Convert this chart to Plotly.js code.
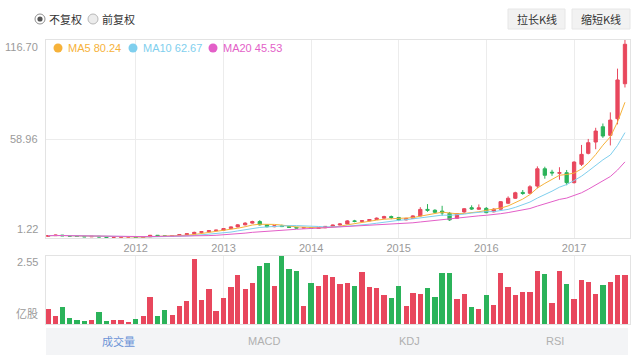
<!DOCTYPE html>
<html><head><meta charset="utf-8">
<script src="https://cdn.plot.ly/plotly-3.0.1.min.js"></script>
<style>html,body{margin:0;padding:0;background:#fff;}#chart{width:640px;height:364px;}</style>
</head><body><div id="chart"></div>
<script>
// ---- data ----
const months = [
'2011-01-01','2011-02-01','2011-03-01','2011-04-01','2011-05-01','2011-06-01','2011-07-01','2011-08-01','2011-09-01','2011-10-01','2011-11-01','2011-12-01',
'2012-01-01','2012-02-01','2012-03-01','2012-04-01','2012-05-01','2012-06-01','2012-07-01','2012-08-01','2012-09-01','2012-10-01','2012-11-01','2012-12-01',
'2013-01-01','2013-02-01','2013-03-01','2013-04-01','2013-05-01','2013-06-01','2013-07-01','2013-08-01','2013-09-01','2013-10-01','2013-11-01','2013-12-01',
'2014-01-01','2014-02-01','2014-03-01','2014-04-01','2014-05-01','2014-06-01','2014-07-01','2014-08-01','2014-09-01','2014-10-01','2014-11-01','2014-12-01',
'2015-01-01','2015-02-01','2015-03-01','2015-04-01','2015-05-01','2015-06-01','2015-07-01','2015-08-01','2015-09-01','2015-10-01','2015-11-01','2015-12-01',
'2016-01-01','2016-02-01','2016-03-01','2016-04-01','2016-05-01','2016-06-01','2016-07-01','2016-08-01','2016-09-01','2016-10-01','2016-11-01','2016-12-01',
'2017-01-01','2017-02-01','2017-03-01','2017-04-01','2017-05-01','2017-06-01','2017-07-01','2017-08-01'];
const open = [2.2,2.6,2.9,2.5,2.3,2.1,1.9,2.2,1.8,1.6,1.7,1.8,
1.85,1.5,1.9,2.8,2.5,2.2,2.6,3.2,3.7,4.5,4.9,5.5,
5.8,6.7,7.7,8.9,9.9,10.8,8.9,7.8,8.3,7.9,7.4,7.0,
7.3,6.8,7.2,8.0,8.8,9.4,11.2,10.9,11.3,12.0,12.8,13.7,
13.2,11.8,12.7,14.1,17.9,17.4,16.9,15.6,12.7,16.4,18.9,18.0,
18.5,16.5,18.0,21.5,24.4,27.8,27.3,31.5,41.6,39.6,39.0,39.3,
33.5,44.2,50.6,57.2,66.1,61.1,70.8,91.2];
const high = [2.8,3.1,3.0,2.6,2.4,2.2,2.3,2.3,1.9,1.8,1.9,1.9,
1.9,2.0,3.0,2.9,2.6,2.7,3.3,3.9,4.9,5.2,5.8,6.0,
7.0,8.0,9.3,10.4,11.3,11.6,9.3,8.6,9.0,8.2,7.7,7.5,
7.5,7.4,8.2,9.0,9.8,11.6,11.8,11.6,12.3,13.2,14.2,14.3,
13.5,13.0,14.5,19.2,21.0,18.0,20.0,16.4,15.8,18.6,20.3,20.8,
19.3,18.6,22.8,25.5,28.2,29.2,32.0,43.0,42.8,41.0,42.5,40.9,
46.0,55.5,59.0,65.5,68.0,74.5,100.0,116.70];
const low = [2.0,2.4,2.4,2.2,2.0,1.8,1.8,1.7,1.5,1.4,1.5,1.6,
1.22,1.4,1.8,2.4,2.1,2.1,2.5,3.0,3.5,4.2,4.7,5.2,
5.6,6.5,7.4,8.6,9.6,8.5,7.4,7.5,7.6,7.1,6.8,6.8,
6.5,6.6,7.0,7.8,8.6,9.2,10.4,10.6,11.0,11.7,12.5,12.2,
11.3,11.5,12.5,13.8,16.5,15.8,14.2,11.2,12.4,16.0,17.6,17.6,
15.7,16.2,17.7,21.0,24.0,26.4,27.0,30.2,35.8,37.5,35.2,32.0,
33.0,43.2,50.0,53.0,59.6,55.2,67.5,89.0];
const close = [2.6,2.9,2.5,2.3,2.1,1.9,2.2,1.8,1.6,1.7,1.8,1.85,
1.5,1.9,2.8,2.5,2.2,2.6,3.2,3.7,4.5,4.9,5.5,5.8,
6.7,7.7,8.9,9.9,10.8,8.9,7.8,8.3,7.9,7.4,7.0,7.3,
6.8,7.2,8.0,8.8,9.4,11.2,10.9,11.3,12.0,12.8,13.7,13.2,
11.8,12.7,14.1,17.9,17.4,16.2,15.8,11.8,15.5,18.3,18.1,18.8,
16.0,18.0,22.4,24.4,27.6,27.2,31.1,41.6,37.8,39.2,39.3,33.5,
45.5,50.0,56.8,63.6,60.7,70.0,93.4,114.2];
const volume = [0.58,0.30,0.62,0.21,0.14,0.11,0.16,0.44,0.11,0.16,0.16,0.06,
0.17,0.31,1.02,0.30,0.53,0.32,0.67,0.85,2.43,0.90,1.33,0.49,
0.98,1.37,1.83,1.31,1.52,2.18,2.30,1.41,2.55,2.08,1.98,0.68,
1.54,1.44,1.84,1.75,1.50,1.55,1.44,1.94,1.39,1.34,1.08,0.96,
1.41,0.68,1.16,1.11,1.36,1.01,1.93,1.93,0.92,1.11,0.65,0.58,
1.08,0.71,1.92,1.38,1.07,1.21,1.21,2.00,1.88,0.77,1.97,1.49,
0.95,1.64,1.57,1.12,1.47,1.57,1.84,1.84];
const volDir = [1,1,-1,-1,-1,-1,1,-1,-1,1,1,1,
-1,1,1,-1,-1,1,1,1,1,1,1,1,
1,1,1,1,1,-1,-1,1,-1,-1,-1,1,
-1,1,1,1,1,1,-1,1,1,1,1,-1,
-1,1,1,1,-1,-1,-1,-1,1,1,-1,1,
-1,1,1,1,1,1,1,1,-1,1,1,-1,
1,1,1,1,-1,1,1,1];
const yearTicks = ['2012-01-01','2013-01-01','2014-01-01','2015-01-01','2016-01-01','2017-01-01'];
const yearLabels = ['2012','2013','2014','2015','2016','2017'];
const maPeriods = [5,10,20];
const maLabels = ['MA5 80.24','MA10 62.67','MA20 45.53'];
const volUnit = '亿股';
const tabs = ['成交量','MACD','KDJ','RSI'];
const adjustOptions = ['不复权','前复权'];
const buttons = ['拉长K线','缩短K线'];

// ---- styles ----
const UP = '#e8475d', DOWN = '#2bb35a';
const maColors = ['#f6b23a','#7fcfee','#e35fc8'];
const GRID = '#ececec', FRAME = '#e3e3e3', LBL = '#9a9a9a';
const NUMF = 'Liberation Sans, Arial, sans-serif';
const CJK = 'Noto Sans CJK SC, sans-serif';
const L=46, R=630, T=40, B=324;
const px = x => (x-L)/(R-L), py = y => (B-y)/(B-T);

function ma(n){
  return close.map((_,i)=>{const s=close.slice(Math.max(0,i-n+1),i+1);return s.reduce((a,b)=>a+b,0)/s.length;});
}
const yMax = Math.max(...high), yMin = Math.min(...low), yMid = (yMax+yMin)/2;
const vMax = Math.max(...volume);

const traces = [];
maPeriods.forEach((n,k)=>traces.push({type:'scatter',mode:'lines',x:months,y:ma(n),xaxis:'x',yaxis:'y',
  line:{color:maColors[k],width:1},hoverinfo:'skip',showlegend:false}));
traces.push({type:'candlestick',x:months,open:open,high:high,low:low,close:close,xaxis:'x',yaxis:'y',
  increasing:{line:{color:UP,width:1},fillcolor:UP},decreasing:{line:{color:DOWN,width:1},fillcolor:DOWN},
  whiskerwidth:0,showlegend:false,hoverinfo:'skip'});
traces.push({type:'bar',x:months,y:volume,xaxis:'x2',yaxis:'y2',width:22*86400000,
  marker:{color:volDir.map(d=>d>0?UP:DOWN),line:{width:0}},showlegend:false,hoverinfo:'skip'});

const xr = ['2010-12-23','2017-08-22'];
const ann = [];
const shapes = [];
// y labels
ann.push({xref:'paper',yref:'paper',x:0,y:1,xanchor:'right',yanchor:'top',xshift:-6,yshift:1,text:yMax.toFixed(2),showarrow:false,font:{family:NUMF,size:11,color:LBL}});
ann.push({xref:'paper',yref:'y',x:0,y:yMid,xanchor:'right',yanchor:'middle',xshift:-6,text:yMid.toFixed(2),showarrow:false,font:{family:NUMF,size:11,color:LBL}});
ann.push({xref:'paper',yref:'y',x:0,y:yMin,xanchor:'right',yanchor:'bottom',xshift:-6,yshift:1,text:yMin.toFixed(2),showarrow:false,font:{family:NUMF,size:11,color:LBL}});
ann.push({xref:'paper',yref:'y2',x:0,y:vMax,xanchor:'right',yanchor:'top',xshift:-6,yshift:2,text:vMax.toFixed(2),showarrow:false,font:{family:NUMF,size:11,color:LBL}});
ann.push({xref:'paper',yref:'y2',x:0,y:0,xanchor:'right',yanchor:'bottom',xshift:-6,yshift:1,text:volUnit,showarrow:false,font:{family:CJK,size:11,color:LBL}});
// legend
const legX = [58,133,213];
maLabels.forEach((t,k)=>{
  shapes.push({type:'circle',xref:'paper',yref:'paper',xsizemode:'pixel',ysizemode:'pixel',xanchor:px(legX[k]),yanchor:py(48),
    x0:-4.5,x1:4.5,y0:-4.5,y1:4.5,fillcolor:maColors[k],line:{width:0}});
  ann.push({xref:'paper',yref:'paper',x:px(legX[k]+8),y:py(48),xanchor:'left',yanchor:'middle',text:t,showarrow:false,
    font:{family:NUMF,size:11,color:maColors[k]}});
});
// radio options
const radX = [40,93];
adjustOptions.forEach((t,k)=>{
  shapes.push({type:'circle',xref:'paper',yref:'paper',xsizemode:'pixel',ysizemode:'pixel',xanchor:px(radX[k]),yanchor:py(19),
    x0:-5,x1:5,y0:-5,y1:5,fillcolor:k===0?'#ffffff':'#ececec',line:{color:k===0?'#8f8f8f':'#b8b8b8',width:1}});
  if(k===0) shapes.push({type:'circle',xref:'paper',yref:'paper',xsizemode:'pixel',ysizemode:'pixel',xanchor:px(radX[k]),yanchor:py(19),
    x0:-2.6,x1:2.6,y0:-2.6,y1:2.6,fillcolor:'#555',line:{width:0}});
  ann.push({xref:'paper',yref:'paper',x:px(radX[k]+7),y:py(19),xanchor:'left',yanchor:'middle',text:t,showarrow:false,
    font:{family:CJK,size:11,color:'#333'}});
});
// buttons
const btn = [[508,565],[572,630]];
buttons.forEach((t,k)=>{
  shapes.push({type:'rect',xref:'paper',yref:'paper',x0:px(btn[k][0]),x1:px(btn[k][1]),y0:py(29),y1:py(9),
    fillcolor:'#f2f2f2',line:{color:'#e6e6e6',width:1}});
  ann.push({xref:'paper',yref:'paper',x:px((btn[k][0]+btn[k][1])/2),y:py(19),xanchor:'center',yanchor:'middle',text:t,showarrow:false,
    font:{family:CJK,size:11,color:'#333'}});
});
// tab bar
shapes.push({type:'rect',xref:'paper',yref:'paper',x0:px(46),x1:px(628),y0:py(355),y1:py(328),fillcolor:'#f3f4f6',line:{width:0},layer:'below'});
tabs.forEach((t,k)=>{
  const cx = 46 + (628-46)*(k+0.5)/tabs.length;
  ann.push({xref:'paper',yref:'paper',x:px(cx),y:py(341),xanchor:'center',yanchor:'middle',text:t,showarrow:false,
    font:{family:k===0?CJK:NUMF,size:11,color:k===0?'#6b93d6':'#b0b0b0'}});
});

const axBase = {type:'date',range:xr,tickmode:'array',tickvals:yearTicks,ticktext:yearLabels,showgrid:true,gridcolor:GRID,gridwidth:1,
  showline:true,mirror:true,linecolor:FRAME,linewidth:1,zeroline:false,ticks:'',fixedrange:true,rangeslider:{visible:false}};
const layout = {
  width:640,height:364,margin:{l:L,r:640-R,t:T,b:364-B},paper_bgcolor:'#fff',plot_bgcolor:'#fff',showlegend:false,
  xaxis:Object.assign({},axBase,{anchor:'y',domain:[0,1],showticklabels:true,tickfont:{family:NUMF,size:11,color:LBL}}),
  xaxis2:Object.assign({},axBase,{anchor:'y2',domain:[0,1],showticklabels:false,matches:'x'}),
  yaxis:{domain:[py(238),1],range:[yMin,yMax],tickmode:'array',tickvals:[yMid],showticklabels:false,showgrid:true,gridcolor:GRID,
    showline:true,mirror:true,linecolor:FRAME,zeroline:false,ticks:'',fixedrange:true},
  yaxis2:{domain:[0,py(256)],range:[0,vMax],showticklabels:false,showgrid:false,showline:true,mirror:true,linecolor:FRAME,
    zeroline:false,ticks:'',fixedrange:true},
  bargap:0,annotations:ann,shapes:shapes
};
Plotly.newPlot('chart',traces,layout,{staticPlot:true,displayModeBar:false});
</script></body></html>
